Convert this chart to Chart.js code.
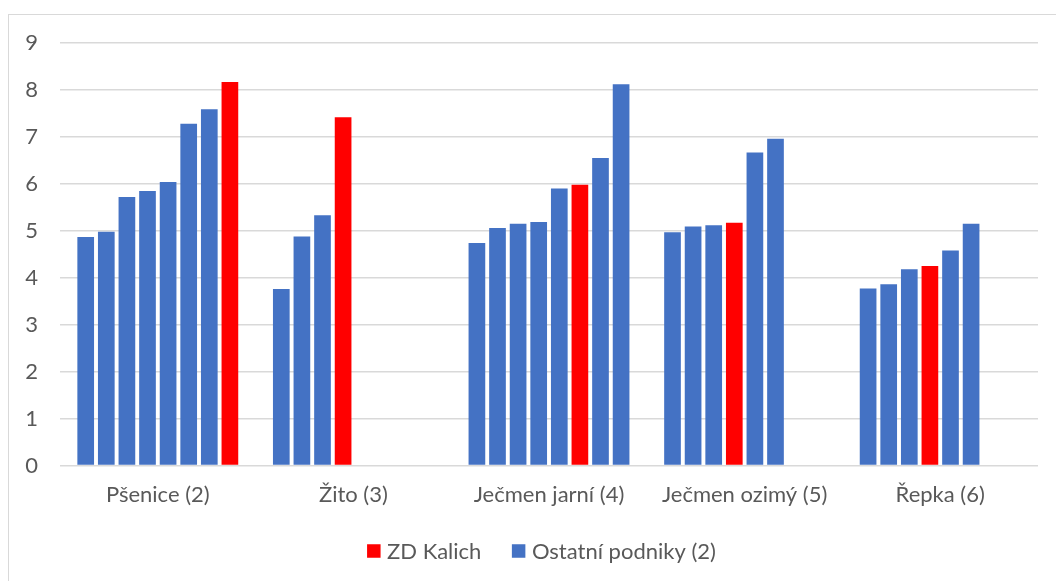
<!DOCTYPE html>
<html>
<head>
<meta charset="utf-8">
<script src="https://cdn.jsdelivr.net/npm/chart.js@4/dist/chart.umd.min.js"></script>
<style>
  html, body { margin: 0; padding: 0; background: #fff; }
  #wrap { width: 1056px; height: 581px; position: relative; }
</style>
</head>
<body>
<div id="wrap"><canvas id="c" width="1056" height="581"></canvas></div>
<script>
// ---- data ----
const categories = ['Pšenice (2)', 'Žito (3)', 'Ječmen jarní (4)', 'Ječmen ozimý (5)', 'Řepka (6)'];
const psenice     = [4.87, 4.98, 5.72, 5.85, 6.04, 7.28, 7.59, 8.17];
const zito        = [3.76, 4.88, 5.33, 7.42];
const jecmenJarni = [4.74, 5.06, 5.15, 5.19, 5.90, 5.98, 6.55, 8.12];
const jecmenOzimy = [4.97, 5.09, 5.12, 5.17, 6.67, 6.96];
const repka       = [3.77, 3.86, 4.18, 4.25, 4.58, 5.15];
// index of the ZD Kalich bar within each category
const kalichIndex = [7, 3, 5, 3, 3];
const seriesNames = ['ZD Kalich', 'Ostatní podniky (2)'];
const yTicks = [0, 1, 2, 3, 4, 5, 6, 7, 8, 9];

const RED = '#FF0000';
const BLUE = '#4472C4';
const TEXT = '#595959';
const FONT = 'Lato';
const groups = [psenice, zito, jecmenJarni, jecmenOzimy, repka];
const slots = Math.max(...groups.map(g => g.length));

const datasets = [];
for (let s = 0; s < slots; s++) {
  datasets.push({
    label: 'slot ' + (s + 1),
    data: groups.map(g => (s < g.length ? g[s] : null)),
    backgroundColor: groups.map((g, ci) => (kalichIndex[ci] === s ? RED : BLUE)),
    borderWidth: 0,
    categoryPercentage: 0.8425,
    barPercentage: 0.81
  });
}

const frame = {
  id: 'frame',
  beforeDraw(chart) {
    const ctx = chart.ctx;
    ctx.save();
    ctx.fillStyle = '#fff';
    ctx.fillRect(0, 0, chart.width, chart.height);
    ctx.strokeStyle = '#D9D9D9';
    ctx.lineWidth = 1;
    ctx.strokeRect(8.5, 14.5, 3000, 3000);
    ctx.restore();
  }
};

// legend drawn in Excel style: small square, short gap, text
const excelLegend = {
  id: 'excelLegend',
  afterDraw(chart) {
    const ctx = chart.ctx;
    const items = [
      { text: seriesNames[0], color: RED },
      { text: seriesNames[1], color: BLUE }
    ];
    const box = 13.5, gapText = 6.5, gapItem = 30.5;
    ctx.save();
    ctx.font = '22px ' + FONT;
    ctx.textBaseline = 'middle';
    const widths = items.map(it => ctx.measureText(it.text).width);
    const total = widths.reduce((a, w) => a + box + gapText + w, 0) + gapItem * (items.length - 1);
    const cx = 541.5, cy = 551;
    let x = cx - total / 2;
    items.forEach((it, i) => {
      ctx.fillStyle = it.color;
      ctx.fillRect(x, cy - box / 2, box, box);
      x += box + gapText;
      ctx.fillStyle = TEXT;
      ctx.fillText(it.text, x, cy + 1);
      x += widths[i] + gapItem;
    });
    ctx.restore();
  }
};

new Chart(document.getElementById('c'), {
  type: 'bar',
  data: { labels: categories, datasets },
  options: {
    responsive: false,
    animation: false,
    layout: { padding: { top: 43, right: 18, left: 0, bottom: 57 } },
    plugins: {
      tooltip: { enabled: false },
      legend: { display: false }
    },
    scales: {
      x: {
        grid: { display: false, drawTicks: false },
        border: { display: false },
        ticks: { font: { family: FONT, size: 22 }, color: TEXT, padding: 16, maxRotation: 0 }
      },
      y: {
        min: 0,
        max: 9,
        afterBuildTicks: (s) => { s.ticks = yTicks.map(v => ({ value: v })); },
        afterFit: (s) => { s.width = 60; },
        grid: { color: '#D9D9D9', lineWidth: 1.5, drawTicks: false },
        border: { display: false },
        ticks: { font: { family: FONT, size: 22 }, color: TEXT, padding: 22 }
      }
    }
  },
  plugins: [frame, excelLegend]
});
</script>
</body>
</html>
